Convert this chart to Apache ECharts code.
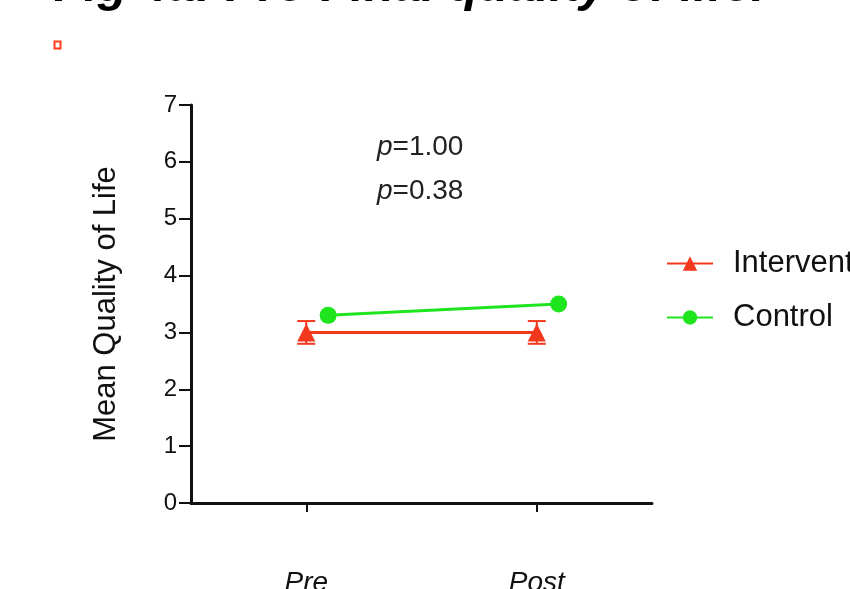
<!DOCTYPE html>
<html>
<head>
<meta charset="utf-8">
<script src="https://cdn.jsdelivr.net/npm/echarts@6/dist/echarts.min.js"></script>
<style>html,body{margin:0;padding:0;background:#fff}#c{width:850px;height:589px}</style>
</head>
<body>
<div id="c"></div>
<script>
const categories = ['Pre', 'Post'];
const interventionMean = [3.0, 3.0];
const interventionErr = [0.2, 0.2];
const controlMean = [3.3, 3.5];
const yTicks = [0, 1, 2, 3, 4, 5, 6, 7];
const pLabels = ['p=1.00', 'p=0.38'];
const seriesNames = ['Intervention', 'Control'];
const titleBold = 'Fig 4a:';
const titleRest = ' Pre-Final quality of life.';
const yAxisTitle = 'Mean Quality of Life';

const RED = '#f2391d';
const GREEN = '#1fe51f';
const FONT = '"Liberation Sans", Arial, Helvetica, sans-serif';
const DODGE = 0.095;

const chart = echarts.init(document.getElementById('c'), null, {renderer: 'canvas'});

const intData = interventionMean.map((v, i) => [i + 0.5, v]);
const ctrlData = controlMean.map((v, i) => [i + 0.5 + DODGE, v]);
const errData = interventionMean.map((v, i) => [i + 0.5, v - interventionErr[i], v + interventionErr[i]]);

const pRich = {
  p: {fontSize: 28, fontStyle: 'italic', fontFamily: FONT, fill: '#222'},
  t: {fontSize: 28, fontFamily: FONT, fill: '#222'}
};

const option = {
  animation: false,
  backgroundColor: '#fff',
  textStyle: {fontFamily: FONT},
  grid: {left: 191, right: 198, top: 105, bottom: 86, containLabel: false, outerBoundsMode: 'none'},
  graphic: [
    {
      type: 'text', left: 54, top: -37,
      style: {
        text: '{b|' + titleBold + '}{i|' + titleRest + '}',
        rich: {
          b: {fontSize: 49, fontWeight: 'bold', fontStyle: 'italic', fontFamily: FONT, fill: '#000', lineHeight: 49},
          i: {fontSize: 49, fontWeight: 'bold', fontStyle: 'italic', fontFamily: FONT, fill: '#000', lineHeight: 49}
        }
      }
    },
    {type: 'rect', shape: {x: 54.5, y: 41.5, width: 6, height: 7}, style: {fill: 'none', stroke: '#ff3a1a', lineWidth: 2}},
    {
      type: 'text', left: 377, top: 133,
      style: {text: '{p|p}{t|' + pLabels[0].slice(1) + '}', rich: pRich}
    },
    {
      type: 'text', left: 377, top: 177,
      style: {text: '{p|p}{t|' + pLabels[1].slice(1) + '}', rich: pRich}
    }
  ],
  legend: {
    orient: 'vertical', left: 666, top: 248, padding: 0,
    itemWidth: 46, itemHeight: 18, itemGap: 23,
    data: seriesNames,
    textStyle: {fontSize: 31, color: '#111', fontFamily: FONT, padding: [0, 0, 0, 15]}
  },
  xAxis: [
    {
      type: 'category', data: categories, boundaryGap: true,
      axisLine: {lineStyle: {color: '#111', width: 3}},
      axisTick: {show: true, interval: 0, alignWithLabel: true, length: 9, lineStyle: {color: '#111', width: 2}},
      axisLabel: {fontSize: 28, fontStyle: 'italic', color: '#111', margin: 66, fontFamily: FONT, interval: 0},
      splitLine: {show: false}
    },
    {type: 'value', min: 0, max: 2, show: false}
  ],
  yAxis: {
    type: 'value', min: 0, max: 7, interval: 1,
    name: yAxisTitle, nameLocation: 'middle', nameGap: 69, nameRotate: 90,
    nameTextStyle: {fontSize: 31, color: '#111', fontFamily: FONT},
    axisLine: {show: true, lineStyle: {color: '#111', width: 3}},
    axisTick: {show: true, length: 12, lineStyle: {color: '#111', width: 2}},
    axisLabel: {fontSize: 24, color: '#111', margin: 14, fontFamily: FONT,
      formatter: v => yTicks.includes(v) ? String(v) : ''},
    splitLine: {show: false}
  },
  series: [
    {
      name: seriesNames[0], type: 'line', xAxisIndex: 1, data: intData,
      symbol: 'triangle', symbolSize: [18, 18],
      lineStyle: {color: RED, width: 3}, itemStyle: {color: RED}, z: 3
    },
    {
      name: seriesNames[1], type: 'line', xAxisIndex: 1, data: ctrlData,
      symbol: 'circle', symbolSize: 17,
      lineStyle: {color: GREEN, width: 3}, itemStyle: {color: GREEN}, z: 4
    },
    {
      type: 'custom', xAxisIndex: 1, data: errData, z: 2, silent: true,
      renderItem: function (params, api) {
        const x = api.coord([api.value(0), api.value(1)])[0];
        const lo = api.coord([api.value(0), api.value(1)])[1];
        const hi = api.coord([api.value(0), api.value(2)])[1];
        const hw = 9;
        const st = {stroke: RED, lineWidth: 2};
        return {type: 'group', children: [
          {type: 'line', shape: {x1: x, y1: lo, x2: x, y2: hi}, style: st},
          {type: 'line', shape: {x1: x - hw, y1: hi, x2: x + hw, y2: hi}, style: st},
          {type: 'line', shape: {x1: x - hw, y1: lo, x2: x + hw, y2: lo}, style: st}
        ]};
      }
    }
  ]
};
chart.setOption(option);
</script>
</body>
</html>
